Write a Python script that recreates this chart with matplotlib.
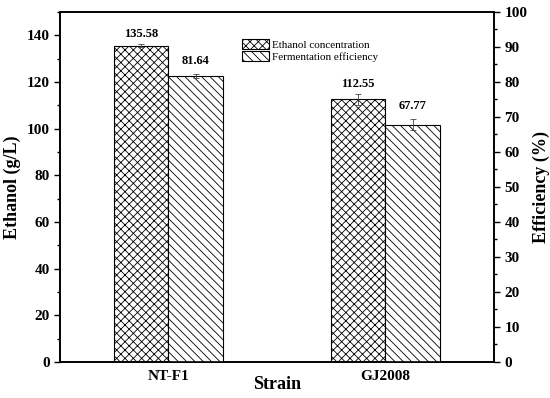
import numpy as np
import matplotlib
matplotlib.use("Agg")
import matplotlib.pyplot as plt
from matplotlib.ticker import MultipleLocator

plt.rcParams['font.family'] = ['Liberation Serif', 'DejaVu Serif']
plt.rcParams['hatch.linewidth'] = 0.6

# ------------------------------------------------------------------
# data
# ------------------------------------------------------------------
strains = ["NT-F1", "GJ2008"]
ethanol = [135.58, 112.55]        # g/L
ethanol_err = [0.8, 2.4]
efficiency = [81.64, 67.77]       # %
efficiency_err = [0.5, 1.6]

x = np.arange(len(strains))
w = 0.25

fig = plt.figure(figsize=(5.5, 3.98), dpi=100)
ax = fig.add_axes([0.109, 0.0905, 0.789, 0.8795])
ax2 = ax.twinx()

ax.bar(x - w / 2, ethanol, w, yerr=ethanol_err, color="white", edgecolor="black",
       hatch="xxxx", linewidth=0.8, label="Ethanol concentration",
       error_kw=dict(elinewidth=0.6, capsize=2, capthick=0.6, ecolor="#444444"))
ax2.bar(x + w / 2, efficiency, w, yerr=efficiency_err, color="white", edgecolor="black",
        hatch="\\\\\\\\", linewidth=0.8, label="Fermentation efficiency",
        error_kw=dict(elinewidth=0.6, capsize=2, capthick=0.6, ecolor="#444444"))

for xi, v, e in zip(x, ethanol, ethanol_err):
    ax.text(xi - w / 2, v + e + 1.5, f"{v:.2f}", ha="center", va="bottom",
            fontsize=9, fontweight="bold")
for xi, v, e in zip(x, efficiency, efficiency_err):
    ax2.text(xi + w / 2, v + e + 2.0, f"{v:.2f}", ha="center", va="bottom",
             fontsize=9, fontweight="bold")

ax.set_xlim(-0.5, 1.5)
ax.set_ylim(0, 150)
ax2.set_ylim(0, 100)
ax.set_xticks(x)
ax.set_xticklabels(strains, fontsize=11, fontweight="bold")
ax.tick_params(axis="x", length=0, pad=6)

ax.set_yticks([0, 20, 40, 60, 80, 100, 120, 140])
ax.yaxis.set_minor_locator(MultipleLocator(10))
ax2.yaxis.set_major_locator(MultipleLocator(10))
ax2.yaxis.set_minor_locator(MultipleLocator(5))

for a in (ax, ax2):
    a.tick_params(axis="y", which="major", length=4, width=1.0, labelsize=11)
    a.tick_params(axis="y", which="minor", length=2, width=1.0)
    for lab in a.get_yticklabels():
        lab.set_fontweight("bold")
    for s in a.spines.values():
        s.set_linewidth(1.2)

ax.set_xlabel("Strain", fontsize=13, fontweight="bold", labelpad=-5)
ax.set_ylabel("Ethanol (g/L)", fontsize=13, fontweight="bold")
ax2.set_ylabel("Efficiency (%)", fontsize=13, fontweight="bold")

h1, l1 = ax.get_legend_handles_labels()
h2, l2 = ax2.get_legend_handles_labels()
ax.legend(h1 + h2, l1 + l2, loc="upper left", bbox_to_anchor=(0.41, 0.935),
          frameon=False, fontsize=8, handlelength=2.4, handleheight=1.0,
          handletextpad=0.3, labelspacing=0.1, borderaxespad=0)

fig.savefig("out.png", dpi=100)
